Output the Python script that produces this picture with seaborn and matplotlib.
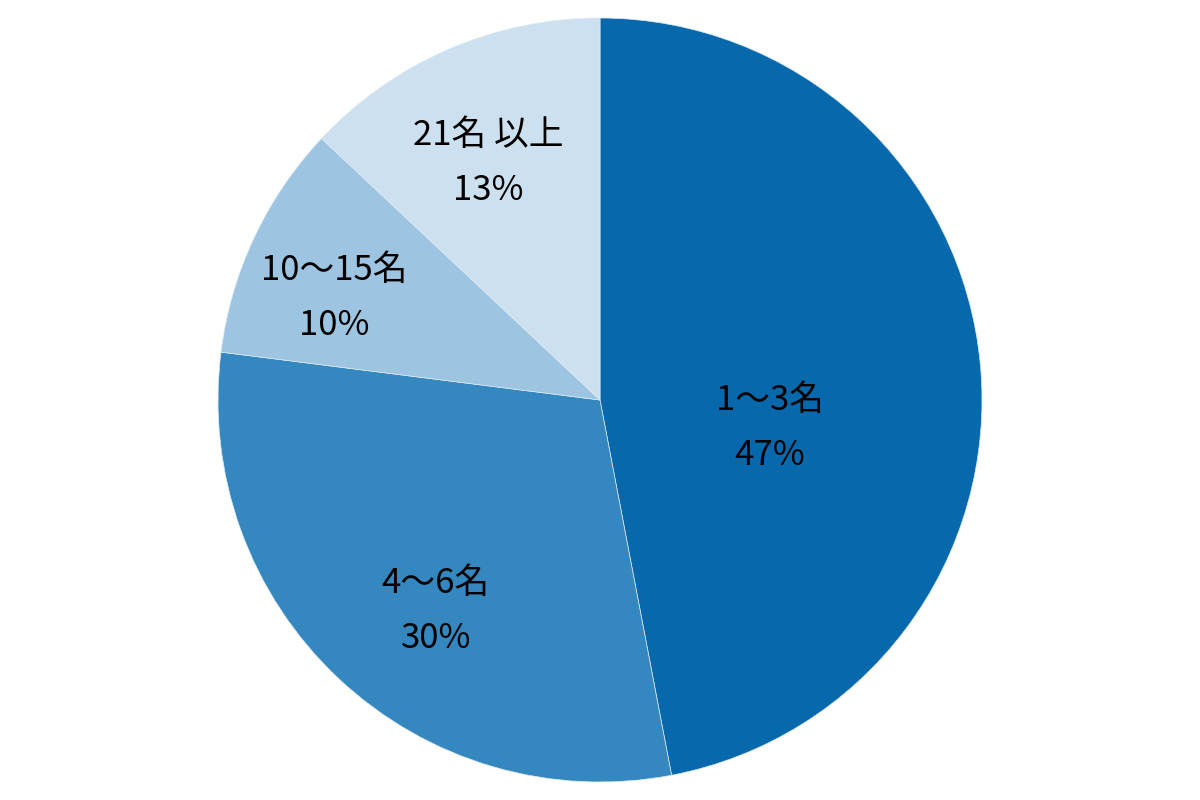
import numpy as np
import matplotlib
matplotlib.use("Agg")
import matplotlib.pyplot as plt
import seaborn as sns

# data
labels = ["1〜3名", "4〜6名", "10〜15名", "21名 以上"]
shares = [47, 30, 10, 13]
colors = ["#0868ac", "#3487bf", "#9dc4e0", "#cce0ef"]

sns.set_theme(style="white")
plt.rcParams["font.family"] = ["Noto Sans CJK JP", "DejaVu Sans"]

fig = plt.figure(figsize=(12, 8), dpi=100)
ax = fig.add_axes([0, 0, 1, 1])

wedges, _ = ax.pie(shares, colors=colors, startangle=90, counterclock=False,
                   radius=1.0, wedgeprops=dict(edgecolor="#dde9f3", linewidth=0.5))

# label placement: distance (fraction of radius) and angle nudge (degrees) per slice
dist = [0.45, 0.70, 0.745, 0.687]
nudge = [-14.7, 5.3, 4.2, 1.9]
for w, lab, s, d, a in zip(wedges, labels, shares, dist, nudge):
    ang = np.deg2rad((w.theta1 + w.theta2) / 2 + a)
    x, y = d * np.cos(ang), d * np.sin(ang)
    ax.text(x, y + 0.072, lab, ha="center", va="center", fontsize=25, color="black")
    ax.text(x, y - 0.072, f"{s}%", ha="center", va="center", fontsize=25, color="black")

r = 382
ax.set_xlim(-600 / r, 600 / r)
ax.set_ylim(-400 / r, 400 / r)
ax.set_aspect("equal")
ax.axis("off")

fig.savefig("out.png", dpi=100)
